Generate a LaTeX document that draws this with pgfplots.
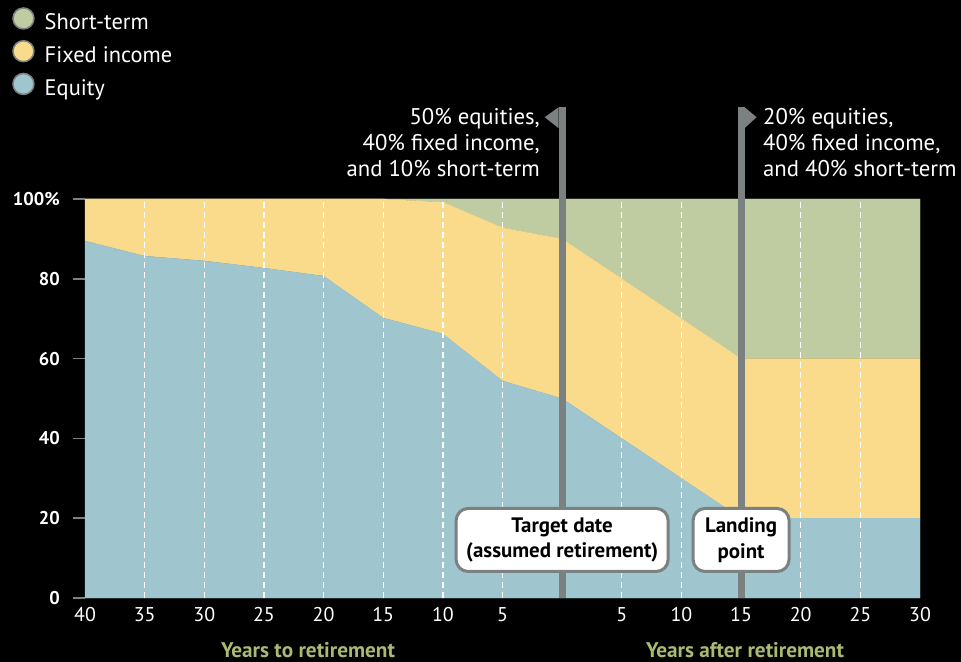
\documentclass[border=0pt]{standalone}
\usepackage{pgfplots}
\pgfplotsset{compat=1.18}
\usepackage{fontspec}
\setmainfont{PT Sans}
\definecolor{eq}{HTML}{9FC6CE}
\definecolor{fi}{HTML}{F9DB8B}
\definecolor{st}{HTML}{BFCBA1}
\definecolor{pole}{HTML}{7A8180}
\definecolor{ttl}{HTML}{A9BA72}
\pgfplotstableread{
x y
-40 89.5
-35 85.7
-30 84.5
-25 82.7
-20 80.7
-15 70.2
-10 66.2
-5 54.4
0 50
5 40
10 30
15 20
30 20
}\equity
\pgfplotstableread{
x y
-40 10.5
-35 14.3
-30 15.5
-25 17.3
-20 19.3
-15 29.8
-10 33.0
-5 38.4
0 40
5 40
10 40
15 40
30 40
}\fixed
\pgfplotstableread{
x y
-40 0
-35 0
-30 0
-25 0
-20 0
-15 0
-10 0.8
-5 7.2
0 10
5 20
10 30
15 40
30 40
}\short
\begin{document}
\begin{tikzpicture}
\fill[black] (0,0) rectangle (961bp,662bp);
\path[use as bounding box] (0,0) rectangle (961bp,662bp);
\begin{axis}[
  at={(85bp,64bp)}, anchor=south west,
  width=835bp, height=399bp, scale only axis,
  xmin=-40, xmax=30, ymin=0, ymax=100,
  stack plots=y, clip=false,
  axis line style={draw=none},
  xtick={-40,-35,-30,-25,-20,-15,-10,-5,5,10,15,20,25,30},
  xticklabels={40,35,30,25,20,15,10,5,5,10,15,20,25,30},
  ytick={0,20,40,60,80,100},
  yticklabels={0,20,40,60,80,100\%},
  xtick pos=bottom, ytick pos=left,
  tick align=outside, major tick length=12bp,
  xtick style={draw=none},
  ytick style={draw=pole, line width=1.5bp},
  xticklabel style={font=\fontsize{20}{20}\selectfont, text=white, inner sep=0pt, yshift=3bp},
  yticklabel style={font=\bfseries\fontsize{18.5}{18.5}\selectfont, text=white, inner sep=0pt, xshift=-13bp},
  reverse legend,
  legend cell align=left,
  legend image code/.code={\filldraw[#1, draw=pole, line width=1.5bp] (10.5bp,6.5bp) circle (10.5bp);},
  legend style={at={(-0.0874,1.4812)}, anchor=north west, draw=none, fill=none,
    text=white, font=\fontsize{22.5}{22.5}\selectfont, inner sep=0pt,
    row sep=6bp, column sep=10bp,
    nodes={inner sep=0pt, text height=14bp, text depth=4bp}},
]
\addplot[fill=eq, draw=eq, line width=0.3bp] table {\equity} \closedcycle;
\addlegendentry{Equity}
\addplot[fill=fi, draw=fi, line width=0.3bp] table {\fixed} \closedcycle;
\addlegendentry{Fixed income}
\addplot[fill=st, draw=st, line width=0.3bp] table {\short} \closedcycle;
\addlegendentry{Short-term}
\pgfplotsinvokeforeach{-35,-30,-25,-20,-15,-10,-5,5,10,20,25}{
  \coordinate (gb#1) at (axis cs:#1,0);
  \coordinate (gt#1) at (axis cs:#1,100);
}
\coordinate (pa0) at (axis cs:0,0);
\coordinate (pa1) at (axis cs:0,123);
\coordinate (pb0) at (axis cs:15,0);
\coordinate (pb1) at (axis cs:15,123);
\coordinate (ba) at (axis cs:0,15.04);
\coordinate (bb) at (axis cs:15,15.04);
\end{axis}
\foreach \v in {-35,-30,-25,-20,-15,-10,-5,5,10,20,25}{
  \draw[white, line width=1.3bp, dash pattern=on 6bp off 4bp] (gb\v) -- (gt\v);
}
% poles
\begin{scope}[xshift=1.5bp]
\fill[pole] ([xshift=-3.5bp]pa0) rectangle ([xshift=3.5bp]pa1);
\fill[pole] ([xshift=-3.5bp]pa1) -- ++(-14bp,-10bp) -- ++(14bp,-11bp) -- cycle;
\end{scope}
\fill[pole] ([xshift=-3.5bp]pb0) rectangle ([xshift=3.5bp]pb1);
\fill[pole] ([xshift=3.5bp]pb1) -- ++(12bp,-10bp) -- ++(-12bp,-11bp) -- cycle;
% boxes
\node[fill=white, draw=pole, line width=3bp, rounded corners=12bp, minimum width=212bp, minimum height=63bp,
  align=center, inner sep=0pt, font=\bfseries\fontsize{21}{26}\selectfont, text=black]
  at ([yshift=-2bp]ba) {Target date\\(assumed retirement)};
\node[fill=white, draw=pole, line width=3bp, rounded corners=12bp, minimum width=96bp, minimum height=63bp,
  align=center, inner sep=0pt, font=\bfseries\fontsize{21}{26}\selectfont, text=black]
  at ([yshift=-2bp]bb) {Landing\\point};
% annotations
\begin{scope}[every node/.style={text=white, inner sep=0pt, font=\fontsize{22.8}{22.8}\selectfont}]
\node[anchor=base east] at (540bp,537bp) {50\% equities,};
\node[anchor=base east] at (540bp,511bp) {40\% fixed income,};
\node[anchor=base east] at (540bp,485bp) {and 10\% short-term};
\node[anchor=base west] at (763bp,537bp) {20\% equities,};
\node[anchor=base west] at (763bp,511bp) {40\% fixed income,};
\node[anchor=base west] at (763bp,485bp) {and 40\% short-term};
\end{scope}
\node[anchor=base, text=ttl, inner sep=0pt, font=\bfseries\fontsize{21.3}{21.3}\selectfont] at (308bp,5bp) {Years to retirement};
\node[anchor=base, text=ttl, inner sep=0pt, font=\bfseries\fontsize{21.3}{21.3}\selectfont] at (745bp,5bp) {Years after retirement};
\end{tikzpicture}
\end{document}
